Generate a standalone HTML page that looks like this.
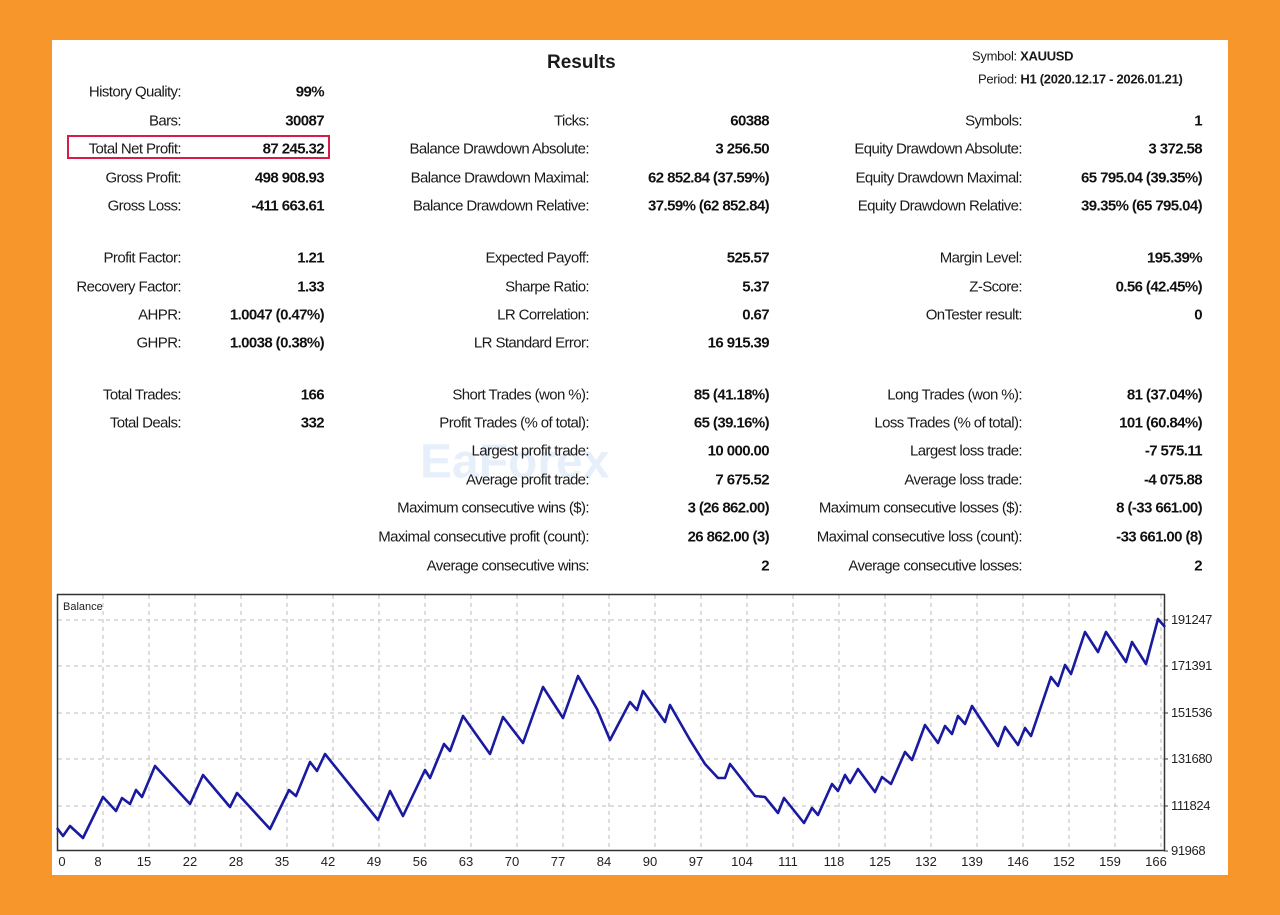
<!DOCTYPE html>
<html><head><meta charset="utf-8"><style>
html,body{margin:0;padding:0}
body{width:1280px;height:915px;background:#F7962B;position:relative;overflow:hidden;font-family:"Liberation Sans",sans-serif;}
#panel{position:absolute;left:52px;top:40px;width:1176px;height:835px;background:#fff;}
.t{position:absolute;font-size:15px;color:#1a1a1a;white-space:nowrap;letter-spacing:-0.6px;transform:translateY(-50%);}
.l{text-align:right}
.v{text-align:right;font-weight:bold;color:#111}
</style></head><body>
<div id="panel"></div>
<div class="t" style="left:547px;top:63px;font-size:19px;font-weight:bold;letter-spacing:0">Results</div>
<div class="t" style="left:972px;top:56px;font-size:13px;letter-spacing:-0.3px">Symbol: <b>XAUUSD</b></div>
<div class="t" style="left:978px;top:79px;font-size:13px;letter-spacing:-0.3px">Period: <b>H1 (2020.12.17 - 2026.01.21)</b></div>
<div style="position:absolute;left:67px;top:135px;width:263px;height:24px;border:2px solid #d81c4a;box-sizing:border-box"></div>
<div class="t" style="left:420px;top:462px;font-size:48px;color:rgba(120,170,230,0.18);font-weight:bold;letter-spacing:0">EaForex</div>
<div id="rows"></div>
<svg width="1280" height="915" style="position:absolute;left:0;top:0" xmlns="http://www.w3.org/2000/svg">
<g id="grid" stroke="#bdbdbd" stroke-dasharray="4,4" stroke-width="1"></g>
<rect x="57.5" y="594.5" width="1107" height="256" fill="none" stroke="#333" stroke-width="1.5"/>
<text x="63" y="610" font-family="Liberation Sans" font-size="11" fill="#222">Balance</text>
<polyline fill="none" stroke="#1a1aa0" stroke-width="2.6" stroke-linejoin="round" points="57,828 63,836 70,826 83,838 103,797 116,811 122,798 130,804 136,790 142,797 155,766 190,804 203,775 230,807 237,793 270,829 289,790 296,796 310,762 317,771 325,754 378,820 390,791 403,816 425,770 430,778 444,744 450,751 463,716 490,754 503,717 523,743 543,687 563,718 578,676 597,709 610,740 630,702 637,710 643,691 665,722 670,705 690,740 705,764 718,778 725,778 730,764 755,796 765,797 778,813 784,798 804,823 812,808 818,815 832,784 838,791 845,775 850,783 858,769 875,792 882,777 891,784 905,752 912,760 925,725 938,743 945,726 952,734 958,716 965,724 972,706 998,746 1005,727 1018,745 1025,728 1031,736 1051,677 1058,686 1065,665 1071,674 1085,632 1098,652 1106,632 1126,662 1132,642 1146,664 1158,619 1165,627"/>
<g id="yl" font-family="Liberation Sans" font-size="13" fill="#222" letter-spacing="-0.4"></g>
<g id="xl" font-family="Liberation Sans" font-size="13" fill="#222" text-anchor="middle"></g>
</svg>
<script>
var rows=[
[92,[["History Quality:","99%"],null,null]],
[121,[["Bars:","30087"],["Ticks:","60388"],["Symbols:","1"]]],
[149,[["Total Net Profit:","87 245.32"],["Balance Drawdown Absolute:","3 256.50"],["Equity Drawdown Absolute:","3 372.58"]]],
[178,[["Gross Profit:","498 908.93"],["Balance Drawdown Maximal:","62 852.84 (37.59%)"],["Equity Drawdown Maximal:","65 795.04 (39.35%)"]]],
[206,[["Gross Loss:","-411 663.61"],["Balance Drawdown Relative:","37.59% (62 852.84)"],["Equity Drawdown Relative:","39.35% (65 795.04)"]]],
[258,[["Profit Factor:","1.21"],["Expected Payoff:","525.57"],["Margin Level:","195.39%"]]],
[287,[["Recovery Factor:","1.33"],["Sharpe Ratio:","5.37"],["Z-Score:","0.56 (42.45%)"]]],
[315,[["AHPR:","1.0047 (0.47%)"],["LR Correlation:","0.67"],["OnTester result:","0"]]],
[343,[["GHPR:","1.0038 (0.38%)"],["LR Standard Error:","16 915.39"],null]],
[395,[["Total Trades:","166"],["Short Trades (won %):","85 (41.18%)"],["Long Trades (won %):","81 (37.04%)"]]],
[423,[["Total Deals:","332"],["Profit Trades (% of total):","65 (39.16%)"],["Loss Trades (% of total):","101 (60.84%)"]]],
[451,[null,["Largest profit trade:","10 000.00"],["Largest loss trade:","-7 575.11"]]],
[480,[null,["Average profit trade:","7 675.52"],["Average loss trade:","-4 075.88"]]],
[508,[null,["Maximum consecutive wins ($):","3 (26 862.00)"],["Maximum consecutive losses ($):","8 (-33 661.00)"]]],
[537,[null,["Maximal consecutive profit (count):","26 862.00 (3)"],["Maximal consecutive loss (count):","-33 661.00 (8)"]]],
[566,[null,["Average consecutive wins:","2"],["Average consecutive losses:","2"]]]];
var lx=[181,589,1022],vx=[324,769,1202],h="";
rows.forEach(function(r){r[1].forEach(function(c,i){if(!c)return;
h+='<div class="t l" style="right:'+(1280-lx[i])+'px;top:'+r[0]+'px">'+c[0]+'</div>';
h+='<div class="t v" style="right:'+(1280-vx[i])+'px;top:'+r[0]+'px">'+c[1]+'</div>';});});
document.getElementById('rows').innerHTML=h;
var g="";
var gy=[620,666,713,759,806];
gy.forEach(function(y){g+='<line x1="58" x2="1164" y1="'+y+'" y2="'+y+'"/>';});
for(var k=0;k<24;k++){var x=103+k*46;g+='<line x1="'+x+'" x2="'+x+'" y1="595" y2="850"/>';}
document.getElementById('grid').innerHTML=g;
var yv=["191247","171391","151536","131680","111824","91968"],yy=[620,666,713,759,806,851],s="";
yv.forEach(function(v,i){s+='<text x="1171" y="'+(yy[i]+4)+'">'+v+'</text><line x1="1164" x2="1168" y1="'+yy[i]+'" y2="'+yy[i]+'" stroke="#333"/>';});
document.getElementById('yl').innerHTML=s;
var xv=[0,8,15,22,28,35,42,49,56,63,70,77,84,90,97,104,111,118,125,132,139,146,152,159,166];s="";
xv.forEach(function(v,i){var x=i==0?62:103+(i-1)*46-5;s+='<text x="'+x+'" y="866">'+v+'</text>';});
document.getElementById('xl').innerHTML=s;
</script>
</body></html>
